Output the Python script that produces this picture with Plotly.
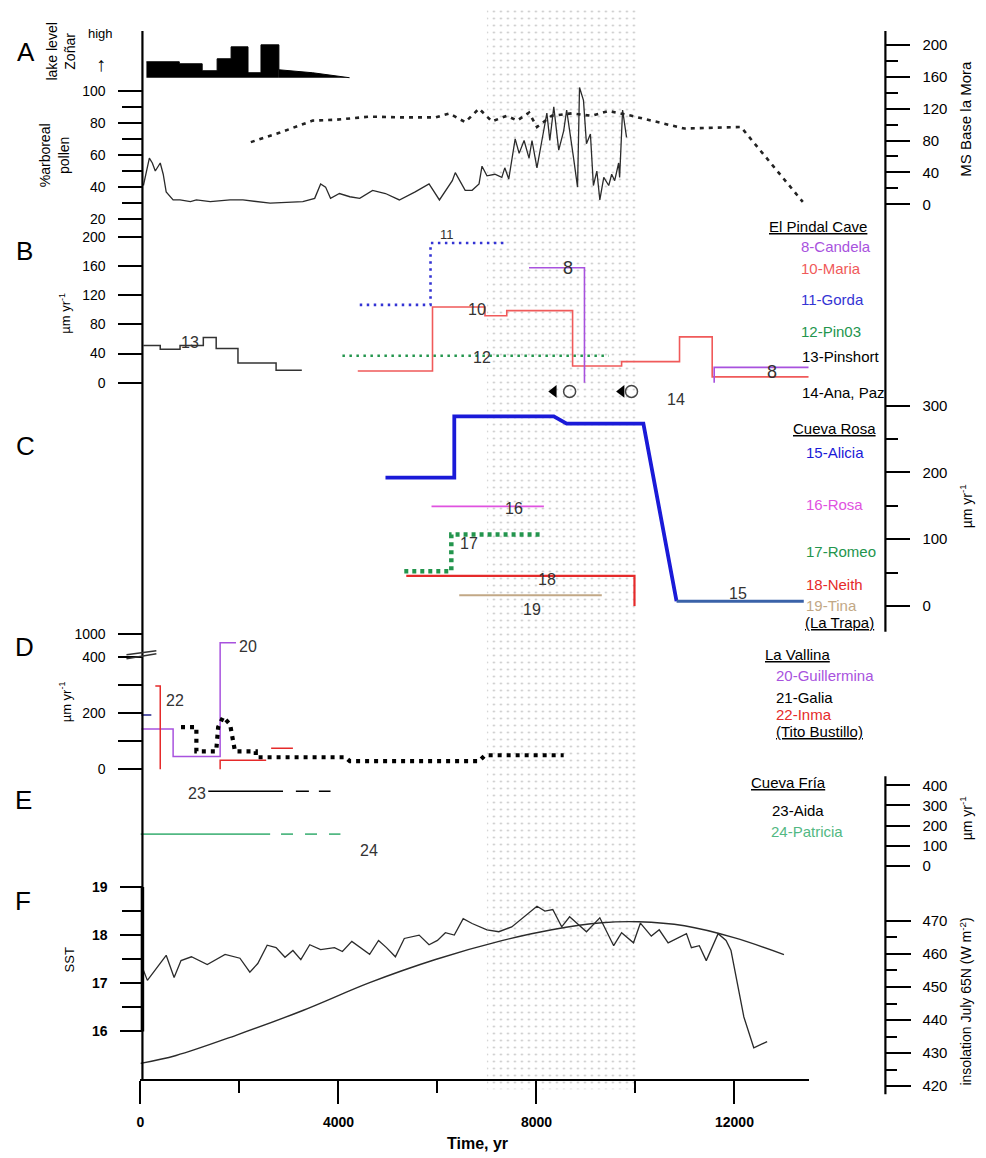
import plotly.graph_objects as go

W, H = 986, 1158
FONT = "Liberation Sans, Arial, sans-serif"

# ---------------- data (x = time, yr) ----------------
# A: lake level Zoñar (relative units)
lake_x = [121, 785, 1247, 1549, 1831, 2173, 2435, 2797]
lake_y = [16, 14, 7, 19, 31, 5, 33, 8]
lake_tail_x = [2797, 3480, 4225]
lake_tail_y = [8, 5, 0]

# A: % arboreal pollen
pollen_x = [60, 180, 240, 300, 400, 460, 520, 660, 800, 1010, 1130, 1410, 1810, 2070, 2620,
            3280, 3520, 3640, 3740, 3840, 4020, 4230, 4430, 4690, 4950, 5230, 5550, 5830, 6040,
            6300, 6360, 6560, 6700, 6840, 6900, 7000, 7160, 7300, 7360, 7440, 7570, 7650, 7750,
            7850, 7910, 8010, 8110, 8210, 8270, 8350, 8450, 8550, 8610, 8690, 8750, 8830, 8870,
            8950, 9010, 9090, 9150, 9220, 9280, 9360, 9460, 9520, 9580, 9660, 9680, 9740, 9820]
pollen_y = [41, 58, 55, 50, 55, 48, 37, 32, 32, 31, 32, 31, 32, 32, 30,
            31, 33, 42, 40, 33, 36, 34, 33, 38, 36, 32, 37, 42, 32,
            44, 49, 38, 38, 42, 53, 47, 48, 46, 52, 45, 70, 61, 69,
            58, 69, 52, 69, 86, 69, 90, 63, 75, 88, 69, 58, 40, 102,
            94, 67, 73, 41, 50, 32, 46, 41, 48, 44, 55, 46, 88, 71]

# A: MS Base la Mora
ms_x = [2230, 2820, 3480, 3940, 4630, 5290, 5960, 6240, 6560, 6840, 7100, 7400, 7610, 7850,
        8010, 8310, 8710, 9110, 9460, 9920, 10990, 12130, 13380]
ms_y = [78, 90, 105, 106, 110, 109, 109, 114, 103, 120, 104, 111, 105, 115,
        97, 111, 114, 111, 117, 111, 95, 97, 3]

# B: El Pindal Cave growth rates (um/yr)
s8a_x = [7850, 8970, 8970]
s8a_y = [158, 158, 0]
s8b_x = [11590, 11590, 13500]
s8b_y = [0, 21, 21]
s10_x = [4390, 5900, 6960, 7400, 8730, 9720, 10890, 11550, 13500]
s10_y = [16, 104, 92, 99, 23, 29, 63, 8, 8]
s11_x = [4430, 5860, 7360]
s11_y = [107, 192, 192]
s12_x = [4080, 9460]
s12_y = [37, 37]
s13_x = [60, 400, 800, 1270, 1530, 1970, 2740, 3260]
s13_y = [51, 46, 51, 62, 47, 27, 17, 17]
s14_tri_x = [8350, 9720]
s14_circ_x = [8670, 9920]
s14_y = [-12, -12]

# C: Cueva Rosa
s15_x = [4950, 6340, 6340, 8350, 8610, 10160, 10830]
s15_y = [192, 192, 284, 284, 273, 273, 7]
s15_tail_x = [10830, 13400]
s15_tail_y = [7, 7]
s16_x = [5880, 8150]
s16_y = [149, 149]
s17_x = [5330, 6280, 8070]
s17_y = [52, 107, 107]
s18_x = [5370, 9980, 9980]
s18_y = [45, 45, 0]
s19_x = [6440, 9320]
s19_y = [16, 16]

# D: La Vallina / Tito Bustillo (axis broken between 400 and 1000)
s20_x = [20, 660, 1610, 1930]
s20_y = [143, 46, 765, 765]
s21_x = [820, 1130, 1130, 1530, 1570, 1670, 1810, 1910, 2330, 2330, 4140, 4230, 6840, 6960, 8550]
s21_y = [150, 150, 64, 64, 150, 186, 160, 64, 64, 43, 43, 29, 29, 50, 50]
s22a_x = [300, 400, 400]
s22a_y = [296, 296, 0]
s22b_x = [1610, 1610, 2540]
s22b_y = [0, 32, 32]
s22c_x = [2640, 3080]
s22c_y = [75, 75]
blue_x = [20, 220]
blue_y = [193, 193]

# E: Cueva Fría
s23_solid_x = [1370, 2880]
s23_dash_x = [3140, 3840]
s23_val = 371
s24_solid_x = [0, 2620]
s24_dash_x = [2840, 4040]
s24_val = 158

# F: SST and insolation
sst_x = [60, 140, 520, 680, 820, 1030, 1350, 1710, 2010, 2210, 2370, 2560, 2740, 2920, 3080,
         3240, 3420, 3640, 3920, 4080, 4270, 4630, 4810, 4970, 5150, 5330, 5630, 5830, 6000,
         6160, 6340, 6520, 6700, 7000, 7240, 7500, 8010, 8170, 8330, 8510, 8670, 8850, 9010,
         9280, 9560, 9720, 9960, 10100, 10320, 10480, 10660, 11030, 11130, 11290, 11430, 11670,
         11830, 11930, 12010, 12190, 12390, 12660]
sst_y = [17.27, 17.06, 17.58, 17.12, 17.47, 17.55, 17.39, 17.6, 17.52, 17.23, 17.41, 17.79, 17.74,
         17.54, 17.68, 17.49, 17.80, 17.70, 17.74, 17.66, 17.87, 17.60, 17.89, 17.74, 17.55, 17.93,
         18.0, 17.80, 17.89, 18.05, 18.0, 18.34, 18.24, 18.11, 18.07, 18.17, 18.6, 18.5, 18.53,
         18.17, 18.38, 18.21, 18.07, 18.36, 17.78, 18.05, 17.84, 18.25, 17.98, 18.11, 17.84, 18.03,
         17.74, 17.78, 17.47, 18.03, 17.89, 17.68, 17.27, 16.3, 15.66, 15.79]
ins_x = [0, 720, 1930, 3280, 4630, 5960, 7300, 8310, 9320, 10060, 10990, 11990, 13000]
ins_y = [426.9, 429.3, 435.4, 442.9, 451.3, 458.3, 464.0, 467.3, 469.4, 469.7, 468.5, 464.9, 459.8]

band_x = [7000, 10050]

x_ticks = [0, 4000, 8000, 12000]
x_tick_text = ["0", "4000", "8000", "12000"]
x_minor = [2000, 6000, 10000]

# colors
PURPLE = "#a852de"
SALMON = "#f05a5a"
RED = "#e52a2a"
BLUE = "#3434d4"
BLUE2 = "#1a1ad8"
STEEL = "#3a62a8"
GREEN = "#23954d"
LGREEN = "#52b883"
MAGENTA = "#e052e0"
TAN = "#c2a886"
DARK = "#2b2b2b"

# broken D axis: values above 400 compressed (1000 plotted at 481)
D_TOP_DISP = 481


def d_scale(v):
    return v if v <= 400 else 400 + (v - 400) * (D_TOP_DISP - 400) / 600


fig = go.Figure()


def add(x, y, ax, color, width=1.5, dash=None, shape="linear", fill=None, fillcolor=None, mode="lines"):
    fig.add_trace(go.Scatter(x=x, y=y, yaxis=ax, mode=mode,
                             line=dict(color=color, width=width, dash=dash, shape=shape),
                             fill=fill, fillcolor=fillcolor, showlegend=False, hoverinfo="skip"))


# shaded band (dot pattern)
fig.add_trace(go.Scatter(x=[band_x[0], band_x[1], band_x[1], band_x[0], band_x[0]],
                         y=[0.057, 0.057, 0.993, 0.993, 0.057], yaxis="y", mode="lines",
                         line=dict(width=0, color="rgba(0,0,0,0)"), fill="toself",
                         fillcolor="rgba(0,0,0,0)",
                         fillpattern=dict(shape=".", size=7, solidity=0.06, fgcolor="#808080",
                                          bgcolor="rgba(0,0,0,0)"),
                         showlegend=False, hoverinfo="skip"))

# A
add(lake_x, lake_y, "y2", "black", 1, shape="hv", fill="tozeroy", fillcolor="black")
add(lake_tail_x, lake_tail_y, "y2", "black", 1, fill="tozeroy", fillcolor="black")
add(pollen_x, pollen_y, "y3", DARK, 1.3)
add(ms_x, ms_y, "y4", "#222", 2.6, dash="4px,5px")

# B
add(s13_x, s13_y, "y5", "#333", 1.5, shape="hv")
add(s11_x, s11_y, "y5", BLUE, 2.6, dash="2.5px,4.5px", shape="hv")
add(s12_x, s12_y, "y5", GREEN, 2.6, dash="2.5px,4.5px")
add(s10_x, s10_y, "y5", SALMON, 1.6, shape="hv")
add(s8a_x, s8a_y, "y5", PURPLE, 1.6)
add(s8b_x, s8b_y, "y5", PURPLE, 1.6)
fig.add_trace(go.Scatter(x=s14_tri_x, y=s14_y, yaxis="y5", mode="markers",
                         marker=dict(symbol="triangle-left", size=11, color="black"),
                         showlegend=False, hoverinfo="skip", cliponaxis=False))
fig.add_trace(go.Scatter(x=s14_circ_x, y=s14_y, yaxis="y5", mode="markers",
                         marker=dict(symbol="circle-open", size=12, color="#444", line=dict(width=1.5)),
                         showlegend=False, hoverinfo="skip", cliponaxis=False))

# C
add(s15_x, s15_y, "y6", BLUE2, 3.8)
add(s15_tail_x, s15_tail_y, "y6", STEEL, 3.2)
add(s16_x, s16_y, "y6", MAGENTA, 1.6)
add(s17_x, s17_y, "y6", GREEN, 4.5, dash="4px,4px", shape="hv")
add(s18_x, s18_y, "y6", RED, 2.2)
add(s19_x, s19_y, "y6", TAN, 2.2)

# D
add(s20_x, [d_scale(v) for v in s20_y], "y7", PURPLE, 1.5, shape="hv")
add(s22a_x, s22a_y, "y7", RED, 1.5)
add(s22b_x, s22b_y, "y7", RED, 1.5)
add(s22c_x, s22c_y, "y7", RED, 1.5)
add(blue_x, blue_y, "y7", "#22228a", 1.5)
add(s21_x, s21_y, "y7", "black", 4.2, dash="4px,5px")

# E
add(s23_solid_x, [s23_val] * 2, "y8", "black", 1.5)
add(s23_dash_x, [s23_val] * 2, "y8", "black", 1.5, dash="13px,10px")
add(s24_solid_x, [s24_val] * 2, "y8", LGREEN, 1.8)
add(s24_dash_x, [s24_val] * 2, "y8", LGREEN, 1.8, dash="12px,12px")

# F
add(sst_x, sst_y, "y9", DARK, 1.3)
add(ins_x, ins_y, "y10", DARK, 1.4, shape="spline")


# ---------------- layout ----------------
def yax(p1, v1, p2, v2, top, bot, side, xpos, tickvals=None, ticktext=None, minor=None,
        ticklen=22, size=14, weight="normal", standoff=8, visible=True):
    s = (v2 - v1) / (p2 - p1)
    d = dict(domain=[1 - bot / H, 1 - top / H],
             range=[v1 + (bot - p1) * s, v1 + (top - p1) * s],
             anchor="free", position=xpos / W, side=side, showgrid=False, zeroline=False,
             showline=False, ticks="outside", ticklen=ticklen, tickwidth=2, tickcolor="black",
             tickfont=dict(family=FONT, size=size, color="black", weight=weight),
             ticklabelstandoff=standoff, visible=visible, fixedrange=True)
    if tickvals is not None:
        d["tickmode"] = "array"
        d["tickvals"] = tickvals
        d["ticktext"] = ticktext if ticktext is not None else [str(t) for t in tickvals]
    if minor is not None:
        d["minor"] = dict(tickmode="array", tickvals=minor[0], ticklen=minor[1], tickwidth=2,
                          tickcolor="black", ticks="outside")
    return d


LX, RX = 139, 885
layout_axes = dict(
    yaxis=dict(domain=[0, 1], range=[0, 1], anchor="free", position=0, visible=False,
               fixedrange=True),
    yaxis2=yax(77, 0, 44, 33, 36, 78, "left", LX, visible=False),
    yaxis3=yax(219, 20, 90, 100, 80, 224, "left", LX, tickvals=[20, 40, 60, 80, 100],
               minor=([30, 50, 70, 90], 20), ticklen=24, standoff=10),
    yaxis4=yax(204, 0, 44, 200, 36, 212, "right", RX, tickvals=[0, 40, 80, 120, 160, 200],
               minor=([20, 60, 100, 140, 180], 12), ticklen=24, size=15, standoff=9),
    yaxis5=yax(383, 0, 237, 200, 226, 402, "left", LX, tickvals=[0, 40, 80, 120, 160, 200],
               ticklen=24, standoff=10),
    yaxis6=yax(607, 0, 406, 300, 398, 616, "right", RX, tickvals=[0, 100, 200, 300],
               minor=([50, 150, 250], 12), ticklen=24, size=15, standoff=9),
    yaxis7=yax(771, 0, 658, 400, 628, 780, "left", LX, tickvals=[0, 200, 400, D_TOP_DISP],
               ticktext=["0", "200", "400", "1000"], minor=([100, 300], 24),
               ticklen=24, standoff=10),
    yaxis8=yax(868, 0, 787, 400, 778, 876, "right", RX, tickvals=[0, 100, 200, 300, 400],
               ticklen=24, size=15, standoff=9),
    yaxis9=yax(1034, 16, 889, 19, 878, 1083, "left", LX, tickvals=[16, 17, 18, 19],
               minor=([16.5, 17.5, 18.5], 20), ticklen=22, size=14, weight="bold", standoff=10),
    yaxis10=yax(1089, 420, 923, 470, 878, 1097, "right", RX, tickvals=[420, 430, 440, 450, 460, 470],
                minor=([425, 435, 445, 455, 465], 11), ticklen=25, size=15, standoff=8),
)

xaxis = dict(domain=[137 / W, 808 / W], range=[0, 13500], anchor="free", position=1 - 1083 / H,
             showline=True, linewidth=2, linecolor="black", showgrid=False, zeroline=False,
             ticks="outside", tickmode="array", tickvals=x_ticks, ticktext=x_tick_text, ticklen=23,
             tickwidth=2, tickcolor="black",
             minor=dict(tickmode="array", tickvals=x_minor, ticklen=12, tickwidth=2,
                        tickcolor="black", ticks="outside"),
             tickfont=dict(family=FONT, size=14, color="black", weight="bold"),
             ticklabelstandoff=6, fixedrange=True)


def P(x, y):
    return x / W, 1 - y / H


ann = []


def text(t, x, y, size=15, color="black", angle=0, xanchor="center", weight="normal"):
    px, py = P(x, y)
    ann.append(dict(text=t, x=px, y=py, xref="paper", yref="paper", showarrow=False,
                    xanchor=xanchor, yanchor="middle", textangle=angle,
                    font=dict(family=FONT, size=size, color=color, weight=weight)))


def dlabel(t, x, y, ax, size=16, color="#333"):
    ann.append(dict(text=t, x=x, y=y, xref="x", yref=ax, showarrow=False,
                    xanchor="center", yanchor="middle",
                    font=dict(family=FONT, size=size, color=color)))


# panel letters
for letter, (lx, ly) in {"A": (22, 51), "B": (21, 251), "C": (22, 447), "D": (21, 648),
                         "E": (20, 802), "F": (19, 903)}.items():
    text(letter, lx, ly, size=26)

# axis titles
text("lake level<br>Zoñar", 57, 51, size=14, angle=-90)
text("high", 97, 33, size=13)
text("↑", 97, 63, size=20, weight="bold")
text("%arboreal<br>pollen", 51, 155, size=14, angle=-90)
text("µm yr<sup>-1</sup>", 61, 313, size=13, angle=-90)
text("µm yr<sup>-1</sup>", 61, 703, size=13, angle=-90)
text("SST", 66, 962, size=13, angle=-90)
text("MS Base la Mora", 966, 118, size=15, angle=-90)
text("µm yr<sup>-1</sup>", 966, 507, size=14, angle=-90)
text("µm yr<sup>-1</sup>", 966, 820, size=14, angle=-90)
text("insolation July 65N (W m<sup>-2</sup>)", 965, 1004, size=14, angle=-90)
text("Time, yr", 475, 1146, size=16, weight="bold")

# site lists
legend_items = [
    ("<u>El Pindal Cave</u>", 766, 226, "black"),
    ("8-Candela", 798, 246, PURPLE),
    ("10-Maria", 798, 268, SALMON),
    ("11-Gorda", 798, 300, BLUE),
    ("12-Pin03", 798, 332, GREEN),
    ("13-Pinshort", 799, 357, "black"),
    ("14-Ana, Paz", 799, 393, "black"),
    ("<u>Cueva Rosa</u>", 790, 429, "black"),
    ("15-Alicia", 803, 453, BLUE2),
    ("16-Rosa", 803, 505, MAGENTA),
    ("17-Romeo", 803, 552, GREEN),
    ("18-Neith", 803, 586, RED),
    ("19-Tina", 803, 607, TAN),
    ("<u>(La Trapa)</u>", 802, 624, "black"),
    ("<u>La Vallina</u>", 762, 656, "black"),
    ("20-Guillermina", 773, 677, PURPLE),
    ("21-Galia", 773, 699, "black"),
    ("22-Inma", 773, 716, RED),
    ("<u>(Tito Bustillo)</u>", 773, 733, "black"),
    ("<u>Cueva Fría</u>", 748, 784, "black"),
    ("23-Aida", 769, 812, "black"),
    ("24-Patricia", 768, 833, LGREEN),
]
for t, x, y, c in legend_items:
    text(t, x, y, size=15, color=c, xanchor="left")

# series number labels
dlabel("11", 6200, 204, "y5", size=13)
dlabel("10", 6800, 100, "y5")
dlabel("12", 6900, 34, "y5")
dlabel("8", 8630, 158, "y5", size=18)
dlabel("8", 12760, 14, "y5", size=18)
dlabel("13", 1000, 55, "y5")
dlabel("14", 10820, -23, "y5")
dlabel("16", 7540, 146, "y6")
dlabel("17", 6640, 94, "y6")
dlabel("18", 8210, 40, "y6")
dlabel("19", 7910, -6, "y6")
dlabel("15", 12070, 19, "y6")
dlabel("20", 2170, 435, "y7")
dlabel("22", 700, 244, "y7")
dlabel("21", 5390, -39, "y7", size=13)
dlabel("23", 1150, 361, "y8")
dlabel("24", 4610, 79, "y8")

shapes = [
    # left vertical axis
    dict(type="line", xref="paper", yref="paper", x0=LX / W, x1=LX / W, y0=1 - 30 / H, y1=1 - 1083 / H,
         line=dict(color="black", width=2.2)),
    # thicker SST section
    dict(type="line", xref="paper", yref="paper", x0=LX / W, x1=LX / W, y0=1 - 889 / H, y1=1 - 1034 / H,
         line=dict(color="black", width=3.5)),
    # right axis (A-C)
    dict(type="line", xref="paper", yref="paper", x0=RX / W, x1=RX / W, y0=1 - 30 / H, y1=1 - 633 / H,
         line=dict(color="black", width=2.2)),
    # right axis (E-F)
    dict(type="line", xref="paper", yref="paper", x0=RX / W, x1=RX / W, y0=1 - 778 / H, y1=1 - 1097 / H,
         line=dict(color="black", width=2.2)),
    # axis break marks on D
    dict(type="line", xref="paper", yref="paper", x0=123 / W, x1=153 / W, y0=1 - 660 / H, y1=1 - 655 / H,
         line=dict(color="#333", width=1.5)),
    dict(type="line", xref="paper", yref="paper", x0=123 / W, x1=153 / W, y0=1 - 656 / H, y1=1 - 652 / H,
         line=dict(color="#333", width=1.5)),
]

fig.update_layout(
    width=W, height=H, autosize=False,
    margin=dict(l=0, r=0, t=0, b=0, pad=0),
    paper_bgcolor="white", plot_bgcolor="rgba(0,0,0,0)",
    showlegend=False, xaxis=xaxis, annotations=ann, shapes=shapes,
    font=dict(family=FONT, color="black"),
    **layout_axes,
)

fig.write_html("out.html", include_plotlyjs=True, config={"displayModeBar": False})
